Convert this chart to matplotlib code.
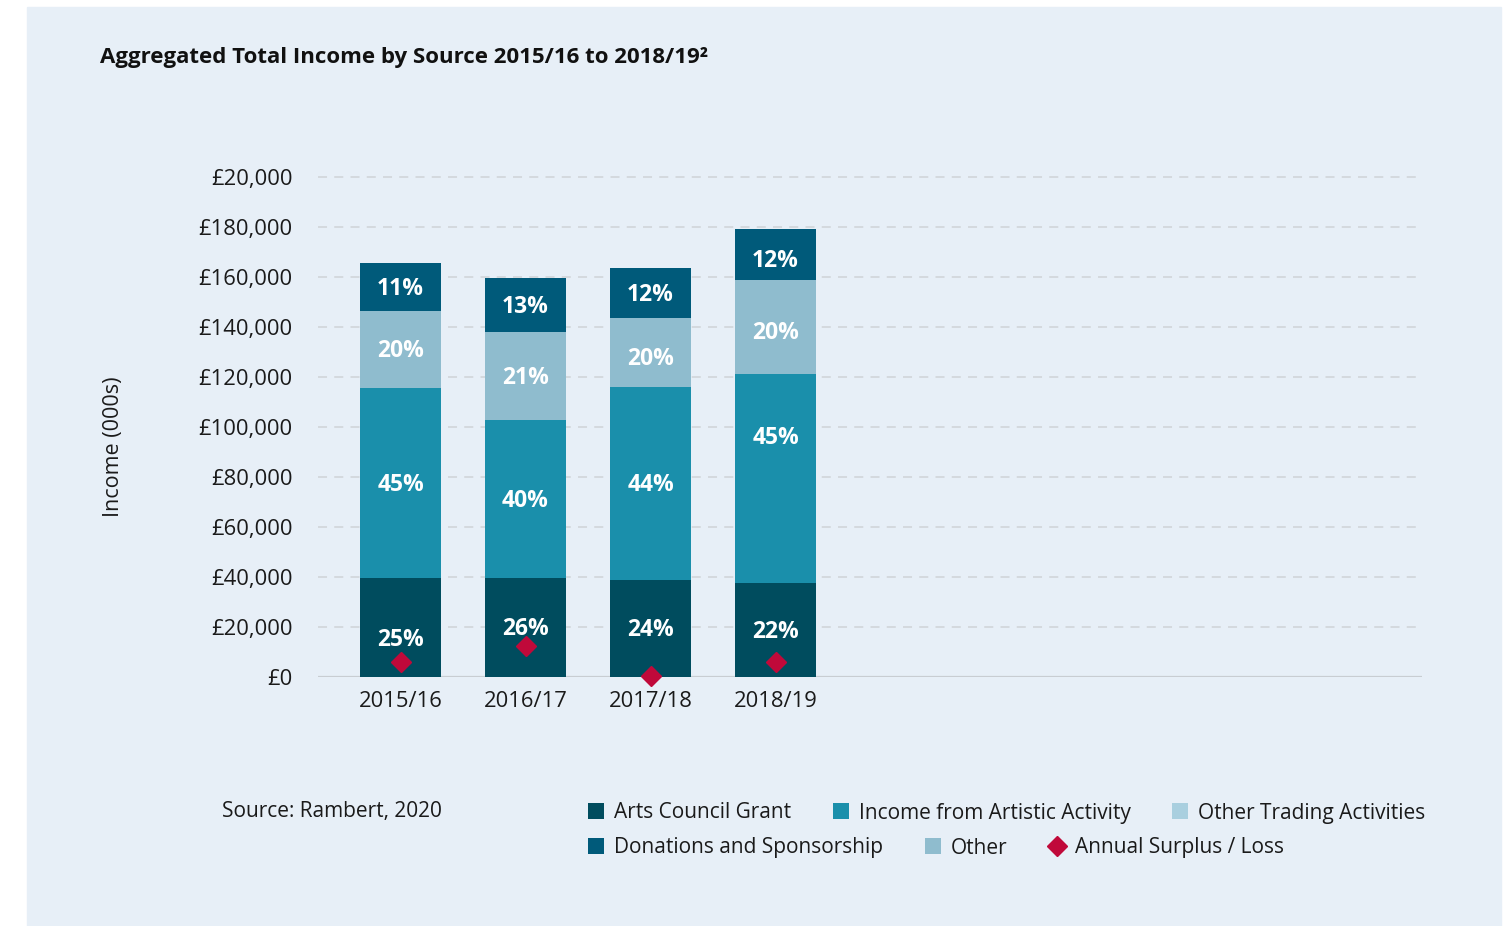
import numpy as np
import matplotlib.pyplot as plt
from matplotlib.patches import Rectangle

plt.rcParams['font.family'] = ['Open Sans', 'DejaVu Sans']

# income by source, in £000s
years = ['2015/16', '2016/17', '2017/18', '2018/19']
arts_council = [39.5, 39.5, 38.7, 37.5]
artistic = [76.1, 63.2, 77.2, 83.6]
other_trading = [0, 0, 0, 0]
other = [30.7, 35.2, 27.6, 37.6]
donations = [19.2, 21.6, 20.0, 20.4]
surplus = [5.8, 12.4, 0.4, 5.8]

# share of total, as printed on each segment
pct_arts = ['25%', '26%', '24%', '22%']
pct_artistic = ['45%', '40%', '44%', '45%']
pct_other = ['20%', '21%', '20%', '20%']
pct_donations = ['11%', '13%', '12%', '12%']

y_ticks = [0, 20, 40, 60, 80, 100, 120, 140, 160, 180, 200]
y_tick_labels = ['£0', '£20,000', '£40,000', '£60,000', '£80,000', '£100,000',
                 '£120,000', '£140,000', '£160,000', '£180,000', '£20,000']

c_arts = '#004c5e'
c_artistic = '#1a8fab'
c_trading = '#a9cfdf'
c_donations = '#005a7a'
c_other = '#8fbcce'
c_surplus = '#c0093a'
panel = '#e7eff7'
txt = '#1a1a1a'

W, H = 1509, 926
fig = plt.figure(figsize=(W / 100, H / 100), dpi=100)
fig.patch.set_facecolor('white')
fig.patches.append(Rectangle((27 / W, 0), (1501 - 27) / W, 1 - 7 / H,
                             transform=fig.transFigure, color=panel, zorder=-5))

ytop = 202
ax = fig.add_axes([318 / W, 1 - 676.7 / H, (1422 - 318) / W, 0.54 * ytop / 200])
ax.set_facecolor('none')

x = np.arange(len(years))
bw = 0.65
stack = [
    (arts_council, c_arts, 'Arts Council Grant', pct_arts),
    (artistic, c_artistic, 'Income from Artistic Activity', pct_artistic),
    (other_trading, c_trading, 'Other Trading Activities', None),
    (other, c_other, 'Other', pct_other),
    (donations, c_donations, 'Donations and Sponsorship', pct_donations),
]
# labels sit a touch below centre; a couple are moved further
nudge = {('Arts Council Grant', 0): -4.3, ('Income from Artistic Activity', 3): 17,
         ('Donations and Sponsorship', 3): -2, ('Other', 3): -1.5, ('Other', 2): -2}

handles = {}
bottom = np.zeros(len(years))
for vals, col, name, pcts in stack:
    vals = np.array(vals, dtype=float)
    handles[name] = ax.bar(x, vals, bw, bottom=bottom, color=col, label=name, zorder=2)
    if pcts is not None:
        for i in range(len(years)):
            yy = bottom[i] + vals[i] / 2 - 0.8 + nudge.get((name, i), 0)
            ax.text(x[i], yy, pcts[i], ha='center', va='center', color='white',
                    fontsize=16.5, fontweight='bold', zorder=3)
    bottom += vals

handles['Annual Surplus / Loss'], = ax.plot(x, surplus, 'D', color=c_surplus, ms=10,
                                            ls='none', zorder=4, clip_on=False,
                                            label='Annual Surplus / Loss')

ax.set_xlim(-0.66, 8.17)
ax.set_ylim(0, ytop)
ax.set_xticks(x, years)
ax.set_yticks(y_ticks, y_tick_labels)
ax.tick_params(axis='y', length=0, pad=18.5, labelsize=15.8, labelcolor=txt)
ax.tick_params(axis='x', length=0, pad=10, labelsize=15.8, labelcolor=txt)
for s in ax.spines.values():
    s.set_visible(False)
ax.yaxis.grid(True, ls=(0, (5, 4)), color='#d2d7dc', lw=1.3, zorder=1)
ax.set_axisbelow(True)
ax.axhline(0, color='#c8cdd2', lw=1.6, zorder=1)

fig.text(100 / W, 1 - 58 / H, 'Aggregated Total Income by Source 2015/16 to 2018/19²',
         fontsize=16, fontweight='bold', va='center', color='#111111')
fig.text(114 / W, 1 - 447 / H, 'Income (000s)', rotation=90, va='center', ha='center',
         fontsize=15.5, color=txt)
fig.text(222 / W, 1 - 811 / H, 'Source: Rambert, 2020', va='center', fontsize=15, color=txt)

legend_kw = dict(loc='center left', frameon=False, fontsize=15, handlelength=0.77,
                 handleheight=0.77, handletextpad=0.48, columnspacing=2.0,
                 borderaxespad=0, borderpad=0, ncol=3, labelcolor=txt)
row1 = ['Arts Council Grant', 'Income from Artistic Activity', 'Other Trading Activities']
row2 = ['Donations and Sponsorship', 'Other', 'Annual Surplus / Loss']
fig.legend([handles[n] for n in row1], row1, bbox_to_anchor=(588 / W, 1 - 813 / H), **legend_kw)
fig.legend([handles[n] for n in row2], row2, bbox_to_anchor=(588 / W, 1 - 848 / H), **legend_kw)

fig.savefig('out.png', dpi=100)
